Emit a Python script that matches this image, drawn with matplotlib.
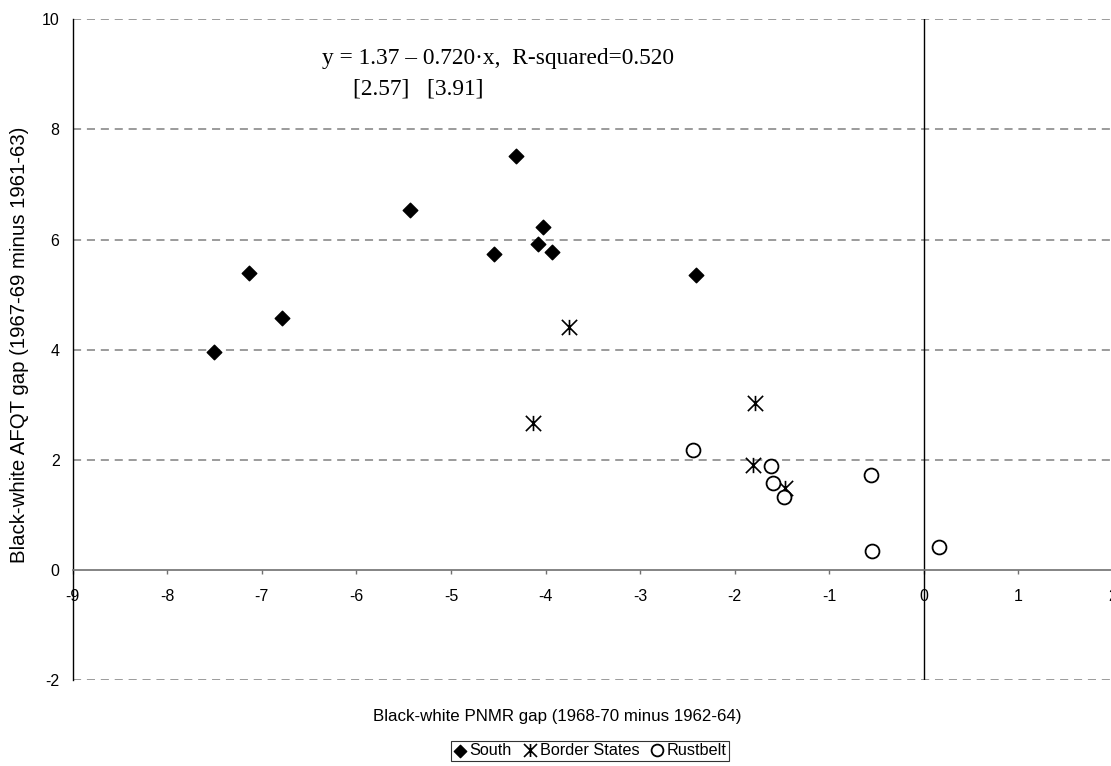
import numpy as np
import matplotlib
matplotlib.use('Agg')
import matplotlib.pyplot as plt
from matplotlib.path import Path

plt.rcParams['font.family'] = ['Liberation Sans', 'DejaVu Sans']
plt.rcParams['axes.unicode_minus'] = False

# values
south_x = [-7.51, -7.14, -6.79, -5.43, -4.54, -4.31, -4.03, -4.08, -3.93, -2.41]
south_y = [3.96, 5.39, 4.58, 6.53, 5.74, 7.51, 6.22, 5.92, 5.78, 5.36]
border_x = [-3.75, -4.13, -1.79, -1.81, -1.47]
border_y = [4.41, 2.66, 3.03, 1.90, 1.49]
rust_x = [-2.44, -1.62, -1.60, -1.48, -0.56, -0.55, 0.16]
rust_y = [2.17, 1.89, 1.58, 1.33, 1.73, 0.34, 0.42]

x_ticks = list(range(-9, 3))
y_ticks = list(range(-2, 11, 2))

eq_line1 = 'y = 1.37 \u2013 0.720\u00b7x,  R-squared=0.520'
eq_line2 = '[2.57]   [3.91]'

# Excel-style asterisk: X with a vertical bar
asterisk = Path([(0, -1), (0, 1), (-1, -1), (1, 1), (-1, 1), (1, -1)],
                [Path.MOVETO, Path.LINETO, Path.MOVETO, Path.LINETO,
                 Path.MOVETO, Path.LINETO])

W, H = 1111, 766
fig = plt.figure(figsize=(W / 100, H / 100), dpi=100)
ax = fig.add_axes([72.7 / W, 86 / H, (1113 - 72.7) / W, (680 - 19.3) / H])

ax.set_xlim(-9, 2)
ax.set_ylim(-2, 10)

# dashed grid
for yv in y_ticks:
    if yv != 0:
        ax.axhline(yv, color='#808080', lw=1.1, dashes=(5.3, 3.8), zorder=1)
ax.axvline(0, color='black', lw=1.0, zorder=2)

ax.scatter(south_x, south_y, marker='D', s=55, color='black', zorder=3,
           label='South')
ax.plot(border_x, border_y, ls='none', marker=asterisk, ms=11, mew=1.2,
        mec='black', mfc='none', zorder=3, label='Border States')
ax.plot(rust_x, rust_y, ls='none', marker='o', ms=10, mew=1.3,
        mec='black', mfc='white', zorder=3, label='Rustbelt')

for side in ['top', 'right']:
    ax.spines[side].set_visible(False)
ax.spines['left'].set_color('black')
ax.spines['left'].set_linewidth(1.0)
ax.spines['bottom'].set_position(('data', 0))
ax.spines['bottom'].set_color('#707070')
ax.spines['bottom'].set_linewidth(1.2)

ax.set_xticks(x_ticks)
ax.set_yticks(y_ticks)
ax.tick_params(axis='x', direction='out', length=3, width=1, color='#707070',
               pad=10.5, labelsize=11.5)
ax.tick_params(axis='y', length=0, pad=9.5, labelsize=11.5)

fig.text(20 / W, 1 - 345 / H, 'Black-white AFQT gap (1967-69 minus 1961-63)',
         rotation=90, ha='center', va='center', fontsize=14.7)
fig.text(557 / W, 1 - 720.7 / H, 'Black-white PNMR gap (1968-70 minus 1962-64)',
         ha='center', va='baseline', fontsize=12.2)

fig.text(321.7 / W, 1 - 64.3 / H, eq_line1, family='Liberation Serif',
         fontsize=16.8, ha='left', va='baseline')
fig.text(352.7 / W, 1 - 95 / H, eq_line2, family='Liberation Serif',
         fontsize=16.8, ha='left', va='baseline')

leg = fig.legend(loc='upper center', bbox_to_anchor=(590 / W, 1 - 741 / H),
                 ncol=3, frameon=True, fancybox=False, fontsize=11.7,
                 handlelength=0.8, handletextpad=0.2, columnspacing=0.7,
                 borderpad=0.15, borderaxespad=0, markerscale=0.85)
leg.get_frame().set_edgecolor('black')
leg.get_frame().set_linewidth(0.8)

fig.savefig('out.png', dpi=100)
